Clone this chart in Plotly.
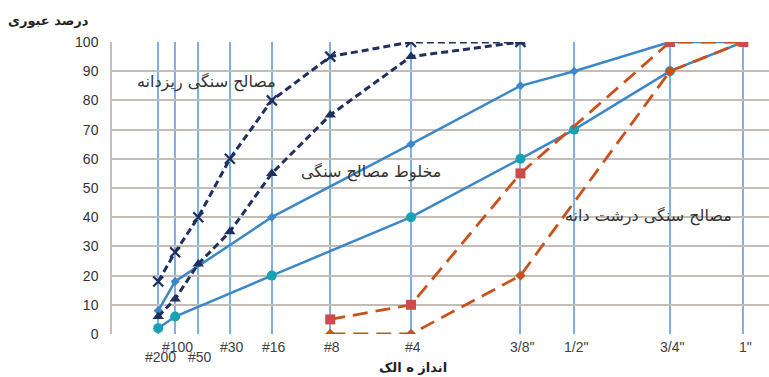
import plotly.graph_objects as go

# Sieve sizes and opening (mm)
sieves = ["#200", "#100", "#50", "#30", "#16", "#8", "#4", '3/8"', '1/2"', '3/4"', '1"']
sieve_mm = [0.075, 0.15, 0.3, 0.6, 1.18, 2.36, 4.75, 9.5, 12.5, 19, 25]
label_row = [2, 1, 2, 1, 1, 1, 1, 1, 1, 1, 1]

# Percent passing
fine_upper = [18, 28, 40, 60, 80, 95, 100, 100, None, None, None]
fine_lower = [6, 12, 24, 35, 55, 75, 95, 100, None, None, None]
mix_upper = [8, 18, None, None, 40, None, 65, 85, 90, 100, 100]
mix_lower = [2, 6, None, None, 20, None, 40, 60, 70, 90, 100]
coarse_upper = [None, None, None, None, None, 5, 10, 55, None, 100, 100]
coarse_lower = [None, None, None, None, None, 0, 0, 20, None, 90, 100]

y_ticks = list(range(0, 101, 10))

# 0.45 power gradation scale
x = [s ** 0.45 for s in sieve_mm]

NAVY = "#1f2f5e"
BLUE = "#3b87c8"
TEAL = "#17a2b4"
ORANGE = "#c9521c"
RED = "#cc4b4b"
FONT = "Liberation Sans"
AFONT = "DejaVu Sans"

fig = go.Figure()

fig.add_trace(go.Scatter(x=x, y=mix_upper, mode="lines+markers", connectgaps=True,
                         line=dict(color=BLUE, width=2.5),
                         marker=dict(symbol="diamond", size=7, color=BLUE)))
fig.add_trace(go.Scatter(x=x, y=mix_lower, mode="lines+markers", connectgaps=True,
                         line=dict(color=BLUE, width=2.5),
                         marker=dict(symbol="circle", size=10, color=TEAL)))
fig.add_trace(go.Scatter(x=x, y=coarse_lower, mode="lines+markers", connectgaps=True,
                         line=dict(color=ORANGE, width=2.8, dash="15px,8px"),
                         marker=dict(symbol="diamond", size=8, color=ORANGE)))
fig.add_trace(go.Scatter(x=x, y=coarse_upper, mode="lines+markers", connectgaps=True,
                         line=dict(color=ORANGE, width=2.8, dash="15px,8px"),
                         marker=dict(symbol="square", size=10, color=RED)))
fig.add_trace(go.Scatter(x=x, y=fine_lower, mode="lines+markers", connectgaps=True,
                         line=dict(color=NAVY, width=3, dash="7px,4px"),
                         marker=dict(symbol="triangle-up", size=10, color=NAVY)))
fig.add_trace(go.Scatter(x=x, y=fine_upper, mode="lines+markers", connectgaps=True,
                         line=dict(color=NAVY, width=3, dash="7px,4px"),
                         marker=dict(symbol="x-thin", size=10, line=dict(color=NAVY, width=2.2))))

annotations = []
for xi, lab, row in zip(x, sieves, label_row):
    annotations.append(dict(x=xi, y=0, xref="x", yref="y", text=lab, showarrow=False,
                            yanchor="top", xanchor="center", xshift=2,
                            yshift=-3 if row == 1 else -13,
                            font=dict(family=FONT, size=14, color="#404040")))

annotations += [
    dict(x=0.634, y=86.2, xref="x", yref="y", text="مصالح سنگی ریزدانه", showarrow=False,
         font=dict(family=AFONT, size=16, color="#333333")),
    dict(x=1.746, y=55.4, xref="x", yref="y", text="مخلوط مصالح سنگی", showarrow=False,
         font=dict(family=AFONT, size=16, color="#333333")),
    dict(x=3.62, y=40.4, xref="x", yref="y", text="مصالح سنگی درشت دانه", showarrow=False,
         font=dict(family=AFONT, size=16, color="#333333")),
    dict(x=-0.096, y=1.075, xref="paper", yref="paper", xanchor="center", yanchor="middle",
         text="<b>درصد عبوری</b>", showarrow=False,
         font=dict(family=AFONT, size=13, color="#222222")),
    dict(x=0.458, y=-0.116, xref="paper", yref="paper", xanchor="center", yanchor="middle",
         text="<b>انداز ه الک</b>", showarrow=False,
         font=dict(family=AFONT, size=13, color="#222222")),
]

fig.update_layout(
    width=769, height=377,
    margin=dict(l=112, r=0, t=42, b=43),
    paper_bgcolor="white", plot_bgcolor="white",
    showlegend=False,
    annotations=annotations,
    xaxis=dict(range=[0, 4.43], tickvals=x, showticklabels=False,
               showgrid=True, gridcolor="#7eb0e0", gridwidth=1.5,
               zeroline=False, showline=False, ticks=""),
    yaxis=dict(range=[0, 100], tickvals=y_ticks, showgrid=True,
               gridcolor="#c4bdb5", gridwidth=1.5, zeroline=False,
               showline=True, linecolor="#c4bdb5", linewidth=1.5,
               ticks="", ticklabelstandoff=9,
               tickfont=dict(family=FONT, size=14, color="#333333")),
)

fig.write_html("out.html", config={"displayModeBar": False},
               post_script="document.body.style.margin='0';document.body.style.overflow='hidden';")
